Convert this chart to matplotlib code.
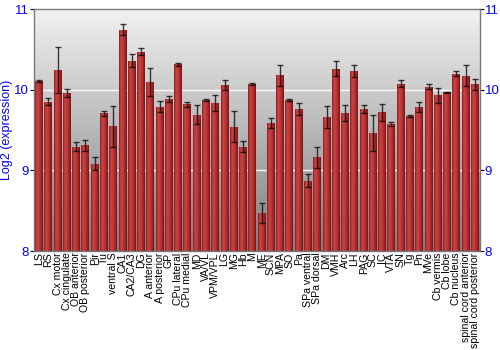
import numpy as np
import matplotlib
matplotlib.use("Agg")
import matplotlib.pyplot as plt
from matplotlib.colors import LinearSegmentedColormap

regions = ["LS", "RS", "Cx motor", "Cx cingulate", "OB anterior", "OB posterior", "Pir", "Tu",
           "ventral S", "CA1", "CA2/CA3", "DG", "A anterior", "A posterior", "GP", "CPu lateral",
           "CPu medial", "MD", "VA/VL", "VPM/VPL", "LG", "MG", "Hb", "M", "ME", "SCN", "MPA", "SO",
           "Pa", "SPa ventral", "SPa dorsal", "DM", "VMH", "Arc", "LH", "PAG", "SC", "IC", "VTA",
           "SN", "Tg", "Pn", "MVe", "Cb vermis", "Cb lobe", "Cb nucleus", "spinal cord anterior",
           "spinal cord posterior"]
values = [10.11, 9.85, 10.245, 9.96, 9.295, 9.31, 9.08, 9.705,
          9.545, 10.745, 10.36, 10.47, 10.095, 9.79, 9.885, 10.315,
          9.82, 9.69, 9.87, 9.835, 10.06, 9.54, 9.295, 10.07, 8.47, 9.585, 10.18, 9.87,
          9.76, 8.87, 9.165, 9.66, 10.26, 9.715, 10.23, 9.765, 9.46, 9.72, 9.57,
          10.075, 9.67, 9.785, 10.035, 9.93, 9.965, 10.2, 10.175,
          10.065]
errors = [0.01, 0.045, 0.29, 0.05, 0.06, 0.065, 0.08, 0.03,
          0.25, 0.07, 0.08, 0.045, 0.17, 0.07, 0.035, 0.02,
          0.03, 0.12, 0.01, 0.095, 0.06, 0.19, 0.07, 0.01, 0.125, 0.065, 0.13, 0.015,
          0.075, 0.08, 0.13, 0.135, 0.09, 0.1, 0.07, 0.05, 0.225, 0.105, 0.025,
          0.045, 0.01, 0.065, 0.03, 0.095, 0.005, 0.03, 0.13,
          0.07]
yticks = [8, 9, 10, 11]

fig = plt.figure(figsize=(5, 3.5), dpi=100)
ax = fig.add_axes([34/500, 1 - 251/350, (480-34)/500, (251-9)/350])

n = len(regions)
x = np.arange(n)
ax.set_xlim(-0.55, n - 0.45)
ax.set_ylim(8, 11)

# background vertical gradient
bg = np.linspace(0, 1, 256).reshape(-1, 1)
bg_cmap = LinearSegmentedColormap.from_list("bg", ["#7e7e7e", "#b8b8b8", "#f2f2f2"])
ax.imshow(bg, aspect="auto", cmap=bg_cmap, extent=[0, 1, 0, 1], origin="lower",
          transform=ax.transAxes, zorder=0)

for yv in [9, 10]:
    ax.axhline(yv, color="white", lw=1, zorder=1, alpha=0.9)

bars = ax.bar(x, np.array(values) - 8, bottom=8, width=0.86, color="#b83232",
              edgecolor="none", zorder=2)
bar_cmap = LinearSegmentedColormap.from_list(
    "bar", ["#8e1c1c", "#c94545", "#c03a3a", "#a82828", "#7a1414"])
grad = np.linspace(0, 1, 64).reshape(1, -1)
for b in bars:
    x0, w, h = b.get_x(), b.get_width(), b.get_height()
    im = ax.imshow(grad, aspect="auto", cmap=bar_cmap,
                   extent=[x0, x0 + w, 8, 8 + h], zorder=2.5)
    im.set_clip_path(b)

ax.errorbar(x, values, yerr=errors, fmt="none", ecolor="black", elinewidth=1,
            capsize=2, capthick=1, alpha=0.75, zorder=3)

ax.set_xticks(x)
ax.set_xticklabels(regions, rotation=90, fontsize=7.6, family="Liberation Sans")
ax.tick_params(axis="x", length=0, pad=1)

ax.set_yticks(yticks)
ax.tick_params(axis="y", labelcolor="blue", labelsize=9.5, length=3, direction="out",
               left=True, right=True, labelleft=True, labelright=True, pad=0.5)
for lab in ax.get_yticklabels():
    lab.set_family("Liberation Sans")
ax.set_ylabel("Log2 (expression)", color="blue", fontsize=9, family="Liberation Sans", labelpad=1)

for s in ax.spines.values():
    s.set_color("#777777")
    s.set_linewidth(1)

fig.savefig("out.png", dpi=100)
